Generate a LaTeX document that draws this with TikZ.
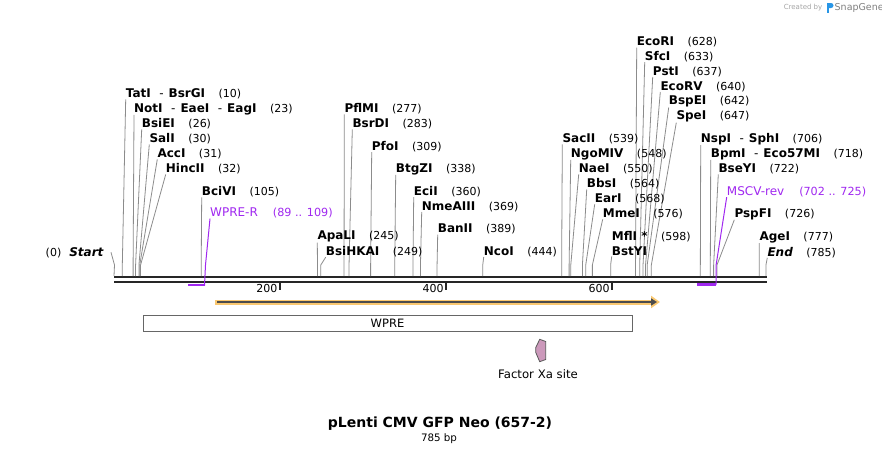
\documentclass[tikz,border=0pt]{standalone}
\usepackage{fontspec}
\setmainfont{DejaVu Sans}
\usepackage{xcolor}
\usetikzlibrary{arrows.meta}

\definecolor{primer}{RGB}{160,40,240}
\definecolor{orfhalo}{RGB}{250,200,112}
\definecolor{featfill}{RGB}{204,153,187}
\definecolor{snapblue}{RGB}{40,150,230}

\newcommand{\bpnum}[1]{\hspace{13.5pt}{\mdseries\fontsize{11}{13}\selectfont(#1)}}
\newcommand{\primernum}[1]{\hspace{15pt}{\fontsize{11.2}{13}\selectfont(#1)}}
\newcommand{\isosep}{\hspace{8.5pt}{\mdseries-}\hspace{5pt}}

\begin{document}
\begin{tikzpicture}[x = 1pt, y = -1pt,
		enzyme/.style = {anchor = west, inner sep = 0pt, font = \fontsize{12}{14}\selectfont\bfseries},
		siteline/.style = {draw = black!45, line width = 0.8pt},
		primerlabel/.style = {anchor = west, inner sep = 0pt, text = primer, font = \fontsize{12}{14}\selectfont},
		primerline/.style = {draw = primer, line width = 1pt},
		primerbar/.style = {draw = primer, line width = 2.2pt},
		ruler/.style = {draw = black!85, line width = 2.4pt},
		tickmark/.style = {draw = black!85, line width = 1.8pt},
		featbox/.style = {draw = black!60, line width = 1pt, fill = white, minimum width = 489pt, minimum height = 16pt, inner sep = 0pt, font = \fontsize{11.5}{13}\selectfont}]
		
		\def\site#1#2#3#4#5{
			\node [enzyme] (#1) at (#2,#3) {#4};
			\coordinate (#1-cut) at ({114+0.8305*#5},276);
			\draw [siteline] (#1.south west) -- ({114+0.8305*#5},265) -- (#1-cut);
		}
		
		\fill [white] (0,0) rectangle (882,455);
		\useasboundingbox (0,0) rectangle (882,455);
		
		\begin{scope}
			\draw [ruler] (114,277.2) -- (767,277.2);
			\draw [ruler] (114,281.8) -- (767,281.8);
			\foreach \t in {200,400,600} {
				\draw [tickmark] ({114+0.8305*\t},282) -- ({114+0.8305*\t},289.7);
				\node [anchor = east, inner sep = 0pt, font = \fontsize{11}{13}\selectfont] (tick\t) at ({114+0.8305*\t-2.5},288.5) {\t};
			}
		\end{scope}
		
		\begin{scope}
			\node [enzyme, anchor = east] (start) at (104,252.3) {{\mdseries\fontsize{11}{13}\selectfont(0)}\hspace{8pt}\textit{Start}};
			\coordinate (start-cut) at (114,276);
			\draw [siteline] ([xshift = 7pt]start.east) -- (114.5,265) -- (start-cut);
			\site{tati}{125.7}{94}{TatI\isosep BsrGI\bpnum{10}}{10}
			\site{noti}{134}{109}{NotI\isosep EaeI\isosep EagI\bpnum{23}}{23}
			\site{bsiei}{141.7}{124}{BsiEI\bpnum{26}}{26}
			\site{sali}{149.3}{139}{SalI\bpnum{30}}{30}
			\site{acci}{157.3}{154}{AccI\bpnum{31}}{31}
			\site{hincii}{165.7}{169}{HincII\bpnum{32}}{32}
			\site{bcivi}{201.7}{192}{BciVI\bpnum{105}}{105}
		\end{scope}
		
		\begin{scope}
			\site{pflmi}{344.3}{109}{PflMI\bpnum{277}}{277}
			\site{bsrdi}{352.3}{124}{BsrDI\bpnum{283}}{283}
			\site{pfoi}{371.7}{146.7}{PfoI\bpnum{309}}{309}
			\site{btgzi}{395.7}{169}{BtgZI\bpnum{338}}{338}
			\site{ecii}{413.7}{191.7}{EciI\bpnum{360}}{360}
			\site{nmeaiii}{421.7}{206.7}{NmeAIII\bpnum{369}}{369}
			\site{banii}{437.7}{229.3}{BanII\bpnum{389}}{389}
			\site{apali}{317.3}{236.7}{ApaLI\bpnum{245}}{245}
			\site{bsihkai}{325.7}{251.7}{BsiHKAI\bpnum{249}}{249}
			\site{ncoi}{483.7}{251.7}{NcoI\bpnum{444}}{444}
		\end{scope}
		
		\begin{scope}
			\site{ecori}{636.7}{42.3}{EcoRI\bpnum{628}}{628}
			\site{sfci}{644.7}{56.7}{SfcI\bpnum{633}}{633}
			\site{psti}{652.7}{71.7}{PstI\bpnum{637}}{637}
			\site{ecorv}{660.3}{86.7}{EcoRV\bpnum{640}}{640}
			\site{bspei}{668.7}{101.7}{BspEI\bpnum{642}}{642}
			\site{spei}{676.3}{116.7}{SpeI\bpnum{647}}{647}
			\site{sacii}{562.3}{139}{SacII\bpnum{539}}{539}
			\site{ngomiv}{570.7}{154}{NgoMIV\bpnum{548}}{548}
			\site{naei}{578.7}{169}{NaeI\bpnum{550}}{550}
			\site{bbsi}{586.7}{184}{BbsI\bpnum{564}}{564}
			\site{eari}{594.7}{199}{EarI\bpnum{568}}{568}
			\site{mmei}{602.7}{214}{MmeI\bpnum{576}}{576}
			\node [enzyme] (mfli) at (611.7,236.7) {MflI *\bpnum{598}};
			\site{bstyi}{611.7}{251.7}{BstYI}{598}
			\site{nspi}{700.7}{139}{NspI\isosep SphI\bpnum{706}}{706}
			\site{bpmi}{710.7}{154}{BpmI\isosep Eco57MI\bpnum{718}}{718}
			\site{bseyi}{718.3}{169}{BseYI\bpnum{722}}{722}
			\site{pspfi}{734.3}{214}{PspFI\bpnum{726}}{726}
			\site{agei}{759.3}{237.3}{AgeI\bpnum{777}}{777}
			\site{end}{767.3}{252.3}{\textit{End}\bpnum{785}}{785}
		\end{scope}
		
		\begin{scope}
			\node [primerlabel] (wprer) at (210,213.3) {WPRE-R\primernum{89 .. 109}};
			\coordinate (wprer-3) at (204.5,285.3);
			\coordinate (wprer-5) at (187.9,285.3);
			\draw [primerline] (wprer.south west) -- (205.5,265) -- (wprer-3);
			\draw [primerbar] (wprer-3) -- (wprer-5);
			\node [primerlabel] (mscvrev) at (726.7,191.7) {MSCV-rev\primernum{702 .. 725}};
			\coordinate (mscvrev-3) at (716.1,284.5);
			\coordinate (mscvrev-5) at (697,284.5);
			\draw [primerline] (mscvrev.south west) -- (716.1,265) -- (mscvrev-3);
			\draw [primerbar] (mscvrev-3) -- (mscvrev-5);
		\end{scope}
		
		\begin{scope}
			\coordinate (orf-start) at (217,302);
			\coordinate (orf-end) at (657,302);
			\draw [orfhalo, line width = 5pt, -{Triangle[length = 9pt, width = 12pt]}] ([xshift = -2pt]orf-start) -- ([xshift = 3pt]orf-end);
			\draw [black!70, line width = 2pt, -{Triangle[length = 6pt, width = 7pt]}] (orf-start) -- (orf-end);
			\node [featbox] (wpre) at (387.5,323) {WPRE};
			\filldraw [fill = featfill, draw = black!65, line width = 0.8pt] (539.7,339.3) -- (545.7,341.5) -- (545.7,359.5) -- (539.7,361.7) -- (535.7,352.3) -- (535.7,347.7) -- cycle;
			\node [font = \fontsize{11.7}{13}\selectfont] (factorxa) at (538,374) {Factor Xa site};
		\end{scope}
		
		\begin{scope}
			\node [font = \fontsize{14}{16}\selectfont\bfseries] (title) at (440,424) {pLenti CMV GFP Neo (657-2)};
			\node [font = \fontsize{10.3}{12}\selectfont] (size) at (439,439) {785 bp};
		\end{scope}
		
		\begin{scope}
			\node [anchor = east, inner sep = 0pt, text = black!35, font = \fontsize{7}{8}\selectfont] (createdby) at (822.5,8) {Created by};
			\fill [snapblue] (826.5,3) rectangle (829,13);
			\fill [snapblue] (829,3) -- (831,3) arc [start angle = 90, end angle = -90, radius = 2.5pt] -- (829,8) -- cycle;
			\node [anchor = west, inner sep = 0pt, text = black!50, font = \fontsize{9.5}{11}\selectfont] (snapgene) at (834.5,8) {SnapGene};
		\end{scope}
	\end{tikzpicture}
\end{document}
